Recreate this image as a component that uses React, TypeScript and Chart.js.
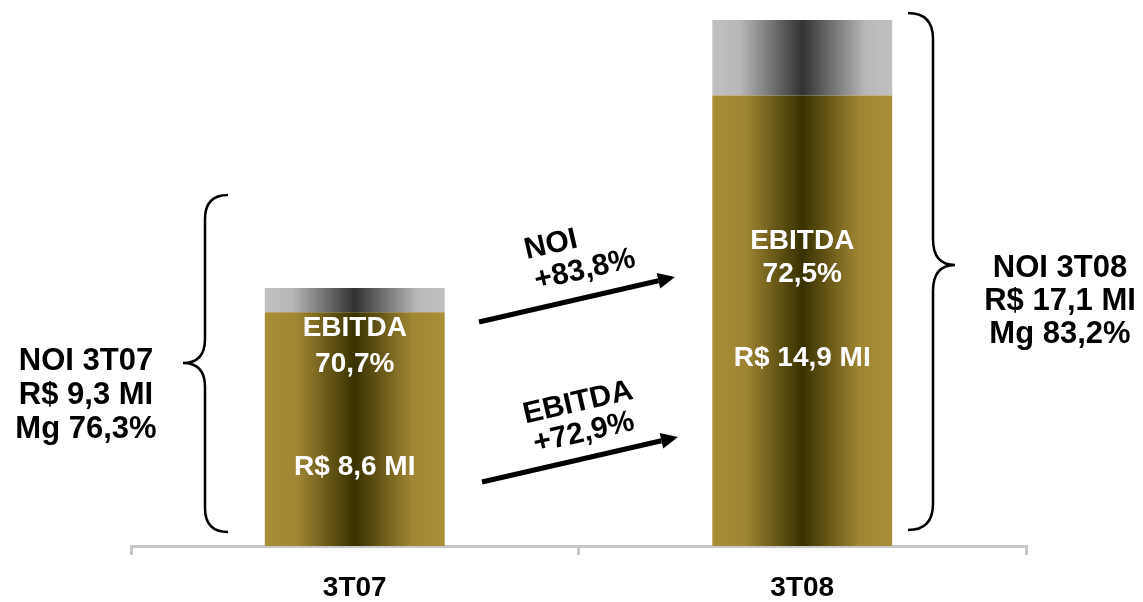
import React, { useEffect, useRef } from "react";
import { Chart, registerables } from "chart.js";

Chart.register(...registerables);

const categories = ["3T07", "3T08"];
const ebitdaValues = [8.6, 14.9];
const noiExtraValues = [0.7, 2.2]; // NOI minus EBITDA
const barTitles = ["EBITDA", "EBITDA"];
const barMargins = ["70,7%", "72,5%"];
const barAmounts = ["R$ 8,6 MI", "R$ 14,9 MI"];
const noiLeftLines = ["NOI 3T07", "R$ 9,3 MI", "Mg 76,3%"];
const noiRightLines = ["NOI 3T08", "R$ 17,1 MI", "Mg 83,2%"];
const growthNoiLines = ["NOI", "+83,8%"];
const growthEbitdaLines = ["EBITDA", "+72,9%"];

const FONT = "'Liberation Sans', Arial, sans-serif";
const BAR_PCT = 0.402;

function barGradient(ctx: any, stops: [number, string][], fallback: string) {
  const chart = ctx.chart;
  const area = chart.chartArea;
  if (!area || ctx.dataIndex === undefined || !chart.scales.x) return fallback;
  const cx = chart.scales.x.getPixelForValue(ctx.dataIndex);
  const half = (area.width / categories.length) * BAR_PCT / 2;
  const g = chart.ctx.createLinearGradient(cx - half, 0, cx + half, 0);
  stops.forEach(([o, c]) => g.addColorStop(o, c));
  return g;
}

const goldStops: [number, string][] = [
  [0, "#a98e37"],
  [0.18, "#a08633"],
  [0.5, "#383100"],
  [0.82, "#a08633"],
  [1, "#a98e37"],
];
const grayStops: [number, string][] = [
  [0, "#c0c0c0"],
  [0.15, "#b8b8b8"],
  [0.5, "#323232"],
  [0.85, "#b8b8b8"],
  [1, "#c0c0c0"],
];

function drawBrace(c: CanvasRenderingContext2D, xe: number, xs: number, xt: number, yTop: number, yMid: number, yBot: number, r: number) {
  c.beginPath();
  c.moveTo(xe, yTop);
  c.quadraticCurveTo(xs, yTop, xs, yTop + r);
  c.lineTo(xs, yMid - r);
  c.quadraticCurveTo(xs, yMid, xt, yMid);
  c.quadraticCurveTo(xs, yMid, xs, yMid + r);
  c.lineTo(xs, yBot - r);
  c.quadraticCurveTo(xs, yBot, xe, yBot);
  c.stroke();
}

function drawArrow(c: CanvasRenderingContext2D, x1: number, y1: number, x2: number, y2: number) {
  const ang = Math.atan2(y2 - y1, x2 - x1);
  const headLen = 17;
  const headW = 8;
  const bx = x2 - headLen * Math.cos(ang);
  const by = y2 - headLen * Math.sin(ang);
  c.beginPath();
  c.moveTo(x1, y1);
  c.lineTo(bx, by);
  c.lineWidth = 5;
  c.strokeStyle = "#000";
  c.stroke();
  c.beginPath();
  c.moveTo(x2, y2);
  c.lineTo(bx + headW * Math.sin(ang), by - headW * Math.cos(ang));
  c.lineTo(bx - headW * Math.sin(ang), by + headW * Math.cos(ang));
  c.closePath();
  c.fillStyle = "#000";
  c.fill();
}

function rotatedText(c: CanvasRenderingContext2D, text: string, x: number, y: number, angle: number) {
  c.save();
  c.translate(x, y);
  c.rotate(angle);
  c.fillText(text, 0, 0);
  c.restore();
}

const annotationPlugin = {
  id: "annotations",
  afterDraw(chart: any) {
    const c: CanvasRenderingContext2D = chart.ctx;
    const xs = chart.scales.x;
    c.save();
    c.textAlign = "center";
    c.textBaseline = "middle";

    // labels inside bars
    c.fillStyle = "#ffffff";
    c.font = `bold 28px ${FONT}`;
    const titleY = [328, 241];
    const marginY = [364, 274];
    const amountY = [467, 358];
    categories.forEach((_, i) => {
      const cx = xs.getPixelForValue(i);
      c.fillText(barTitles[i], cx, titleY[i]);
      c.fillText(barMargins[i], cx, marginY[i]);
      c.fillText(barAmounts[i], cx, amountY[i]);
    });

    // side texts
    c.fillStyle = "#000";
    c.font = `bold 31px ${FONT}`;
    noiLeftLines.forEach((t, k) => c.fillText(t, 86, 361 + k * 34));
    noiRightLines.forEach((t, k) => c.fillText(t, 1060, 268 + k * 33));

    // braces
    c.strokeStyle = "#000";
    c.lineWidth = 2.5;
    drawBrace(c, 228, 205, 183, 195, 363, 532, 24);
    drawBrace(c, 908, 933, 955, 13, 265, 530, 26);

    // arrows
    drawArrow(c, 479, 322, 675, 277);
    drawArrow(c, 482, 482, 678, 437);

    // growth labels
    c.fillStyle = "#000";
    c.font = `bold 30px ${FONT}`;
    const ang = Math.atan2(277 - 322, 675 - 479);
    rotatedText(c, growthNoiLines[0], 551, 245, ang);
    rotatedText(c, growthNoiLines[1], 585, 270, ang);
    rotatedText(c, growthEbitdaLines[0], 578, 403, ang);
    rotatedText(c, growthEbitdaLines[1], 584, 433, ang);
    c.restore();
  },
};

export default function App() {
  const ref = useRef<HTMLCanvasElement | null>(null);
  useEffect(() => {
    document.body.style.margin = "0";
    const canvas = ref.current;
    if (!canvas) return;
    const chart = new Chart(canvas, {
      type: "bar",
      data: {
        labels: categories,
        datasets: [
          {
            label: "EBITDA",
            data: ebitdaValues,
            backgroundColor: (ctx: any) => barGradient(ctx, goldStops, "#a08633"),
            borderWidth: 0,
            barPercentage: BAR_PCT,
            categoryPercentage: 1,
          },
          {
            label: "NOI",
            data: noiExtraValues,
            backgroundColor: (ctx: any) => barGradient(ctx, grayStops, "#888888"),
            borderWidth: 0,
            barPercentage: BAR_PCT,
            categoryPercentage: 1,
          },
        ],
      },
      options: {
        responsive: false,
        animation: false,
        layout: { padding: { left: 131, right: 117, top: 12, bottom: -19 } },
        plugins: { legend: { display: false }, tooltip: { enabled: false } },
        scales: {
          x: {
            stacked: true,
            grid: {
              display: true,
              drawOnChartArea: false,
              drawTicks: true,
              tickLength: 9,
              color: "#c8c8c8",
              lineWidth: 3,
            },
            border: { display: true, color: "#c8c8c8", width: 3 },
            ticks: {
              color: "#000",
              font: { family: FONT, size: 28, weight: "bold", lineHeight: 1 },
              padding: 19,
            },
          },
          y: {
            stacked: true,
            display: false,
            min: 1.8,
            max: 17.33,
          },
        },
      },
      plugins: [annotationPlugin],
    });
    return () => chart.destroy();
  }, []);
  return (
    <div style={{ width: 1143, height: 602, background: "#fff" }}>
      <canvas ref={ref} width={1143} height={602} style={{ display: "block" }} />
    </div>
  );
}
